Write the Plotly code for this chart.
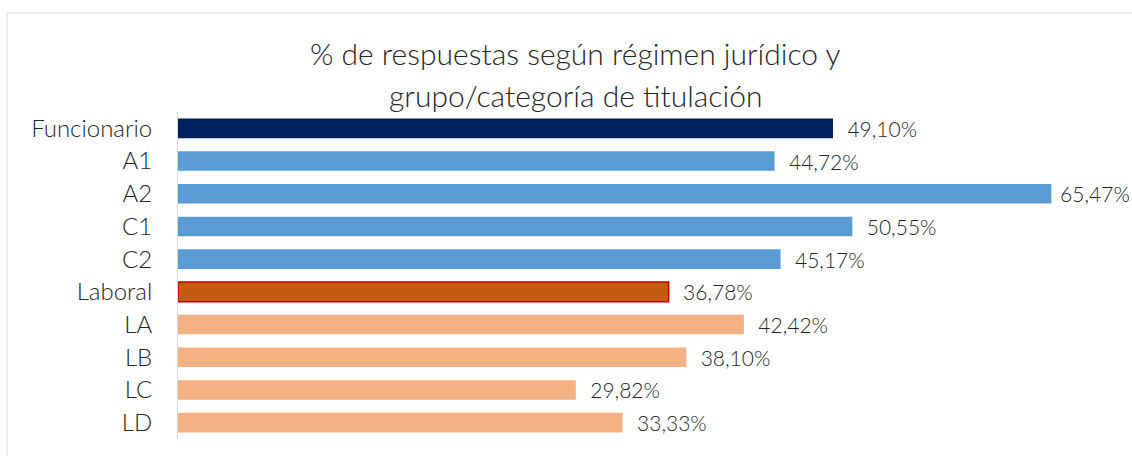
import plotly.graph_objects as go

categories = ["Funcionario", "A1", "A2", "C1", "C2", "Laboral", "LA", "LB", "LC", "LD"]
values = [49.10, 44.72, 65.47, 50.55, 45.17, 36.78, 42.42, 38.10, 29.82, 33.33]
colors = ["#002060", "#5B9BD5", "#5B9BD5", "#5B9BD5", "#5B9BD5",
          "#C55A11", "#F4B183", "#F4B183", "#F4B183", "#F4B183"]
line_colors = ["#002060", "#5B9BD5", "#5B9BD5", "#5B9BD5", "#5B9BD5",
               "#C00000", "#F4B183", "#F4B183", "#F4B183", "#F4B183"]
line_widths = [0, 0, 0, 0, 0, 1.5, 0, 0, 0, 0]
title_lines = ["% de respuestas según régimen jurídico y", "grupo/categoría de titulación"]

W, H = 1132, 456
ML, MR, MT, MB = 178, 60, 112, 17
pw = W - ML - MR
ph = H - MT - MB
FONT = "Lato"

# the longest label is nudged closer to its bar so it stays inside the frame (as in the original)
vmax = max(values)
templates = [(" %{x:.2f}%" if v == vmax else "  %{x:.2f}%") for v in values]

fig = go.Figure(go.Bar(
    y=categories, x=values, orientation="h",
    marker=dict(color=colors, line=dict(color=line_colors, width=line_widths)),
    texttemplate=templates,
    textposition="outside",
    cliponaxis=False,
    constraintext="none",
    textfont=dict(family=FONT, size=21, color="#262626", weight=300),
    width=0.6,
))

fig.update_layout(
    width=W, height=H,
    margin=dict(l=ML, r=MR, t=MT, b=MB),
    paper_bgcolor="white", plot_bgcolor="white",
    separators=",.",
    showlegend=False,
    font=dict(family=FONT, color="#262626"),
    xaxis=dict(range=[0, pw / 13.34], visible=False),
    yaxis=dict(autorange="reversed", showline=True, linecolor="#D9D9D9", linewidth=1,
               ticks="", tickfont=dict(family=FONT, size=24, color="#262626", weight=300),
               ticklabelstandoff=20, showgrid=False),
)

for i, t in enumerate(title_lines):
    ypix = 53 + i * 42
    fig.add_annotation(text=t, xref="paper", yref="paper",
                       x=(575 - ML) / pw, y=(H - MB - ypix) / ph,
                       xanchor="center", yanchor="middle", showarrow=False,
                       font=dict(family=FONT, size=30, color="#262626", weight=300))

fig.add_shape(type="rect", xref="paper", yref="paper",
              x0=(7 - ML) / pw, x1=1.5, y0=-0.5, y1=(H - MB - 13) / ph,
              line=dict(color="#D9D9D9", width=1), fillcolor="rgba(0,0,0,0)", layer="below")

fig.write_html("out.html", config={"displayModeBar": False},
               post_script="document.body.style.margin='0';document.body.style.overflow='hidden';")
